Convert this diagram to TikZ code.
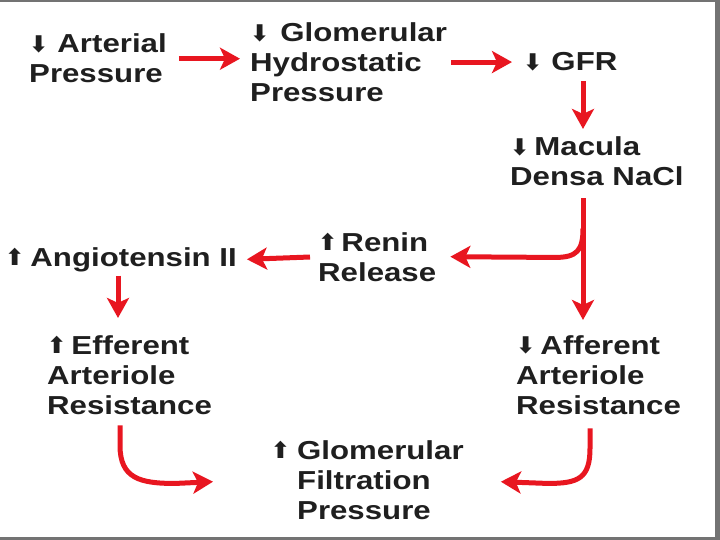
\documentclass[tikz,border=0pt]{standalone}
\usepackage{fontspec}
\setmainfont{Liberation Sans}
\newfontfamily\hv[FakeStretch=1.2]{Liberation Sans}
\newfontfamily\dv{DejaVu Sans}
\usetikzlibrary{arrows.meta}
\definecolor{arrred}{RGB}{232,22,32}
\newcommand\upg{\smash{\raisebox{0.5pt}{\dv\fontsize{23}{23}\selectfont ⬆}}}
\newcommand\dng{\smash{\raisebox{0.5pt}{\dv\fontsize{23}{23}\selectfont ⬇}}}
\begin{document}
\begin{tikzpicture}[x=1pt,y=-1pt,
  lbl/.style={anchor=base west, inner sep=0pt, align=left,
    font=\hv\bfseries\fontsize{26}{30}\selectfont, text=black!88},
  arr/.style={draw=arrred, line width=5pt,
    -{Stealth[length=20pt,width=22pt,inset=5pt]}},
  frame/.style={draw=black!55}]
\useasboundingbox (0,0) rectangle (720,540);
\draw[frame, line width=2.5pt] (0,1.2) -- (720,1.2);
\draw[frame, line width=5pt] (717,0) -- (717,540);
\draw[frame, line width=3pt] (0,538.5) -- (720,538.5);

\node[lbl] (ap) at (29,83) {\dng\hspace{9pt}Arterial\\Pressure};
\node[lbl] (ghp) at (250,102) {\dng\hspace{11pt}Glomerular\\Hydrostatic\\Pressure};
\node[lbl] (gfr) at (523,71) {\dng\hspace{9pt}GFR};
\node[lbl] (md) at (510,186) {\dng\hspace{5pt}Macula\\Densa NaCl};
\node[lbl] (ren) at (318,281) {\upg\hspace{4pt}Renin\\Release};
\node[lbl] (ang) at (5,266) {\upg\hspace{6pt}Angiotensin II};
\node[lbl] (eff) at (47,414) {\upg\hspace{5pt}Efferent\\Arteriole\\Resistance};
\node[lbl] (aff) at (516,414) {\dng\hspace{5pt}Afferent\\Arteriole\\Resistance};
\node[lbl] (gfp) at (297,519) {\llap{\upg\hspace{7pt}}Glomerular\\Filtration\\Pressure};

\coordinate (spine) at (583,0);
\coordinate (lx) at (118,0);

\draw[arr, shorten <=12pt, shorten >=10pt] (ap.east) -- (ap.east -| ghp.west);
\draw[arr, shorten <=4pt, shorten >=11pt] (ghp.east |- gfr.west) -- (gfr.west);
\draw[arr, shorten <=10pt, shorten >=8pt] (gfr.south -| spine) -- (md.north -| spine);
\draw[arr, shorten <=12pt, shorten >=15pt] (md.south -| spine) -- (aff.north -| spine);
\draw[arr] ([yshift=-42pt]md.south -| spine) .. controls +(0,22) and +(22,0) .. ([xshift=-28pt,yshift=-71pt]md.south -| spine) -- ([xshift=14pt]ren.east);
\draw[arr, shorten <=8pt] (ren.west) -- ([xshift=10pt]ang.east);
\draw[arr, shorten <=4pt, shorten >=17pt] (ang.south -| lx) -- (eff.north -| lx);
\draw[arr] ([shift={(73pt,-11pt)}]eff.south west) -- ++(0,20) .. controls +(0,33) and +(-35,0) .. ++(55,38) -- ([xshift=-84pt,yshift=-2pt]gfp.west);
\draw[arr] ([shift={(74pt,-14pt)}]aff.south west) -- ++(0,20) .. controls +(0,30) and +(30,0) .. ++(-42,35) -- ([xshift=37pt,yshift=-2pt]gfp.east);
\end{tikzpicture}
\end{document}
